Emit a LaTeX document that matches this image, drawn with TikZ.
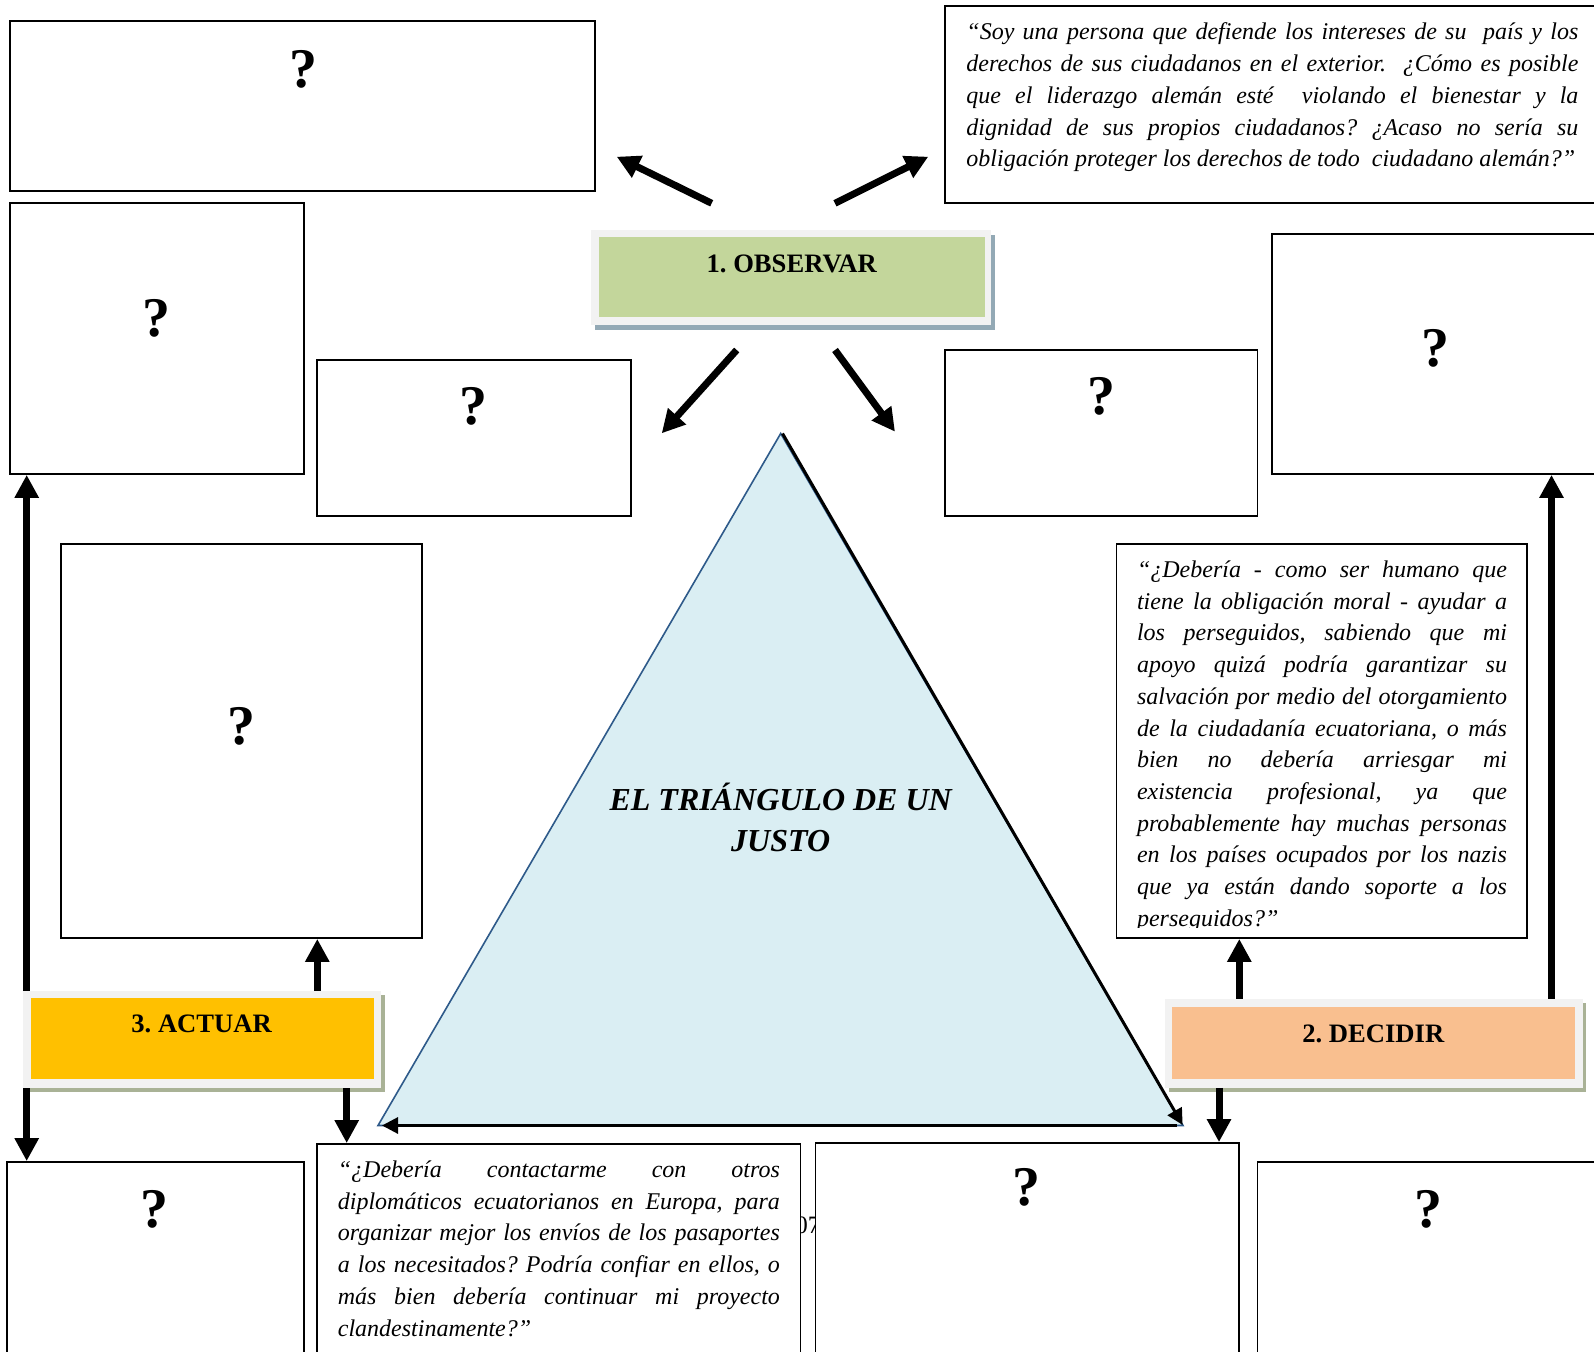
\documentclass[tikz,border=0pt]{standalone}
\usepackage{fontspec}
\setmainfont{Liberation Serif}
\usetikzlibrary{arrows.meta,fit}
\frenchspacing
\definecolor{cObsGreen}{HTML}{C3D69B}
\definecolor{cActYellow}{HTML}{FFC000}
\definecolor{cDecPeach}{HTML}{F9BF8F}
\definecolor{cLblFrame}{HTML}{F2F2F2}
\definecolor{cObsShadow}{HTML}{93A9B5}
\definecolor{cLblShadow}{HTML}{A9B296}
\definecolor{cTriFill}{HTML}{DAEEF3}
\definecolor{cTriEdge}{HTML}{2E5A8A}
\newcommand\jl[1]{\noindent\makebox[\linewidth][s]{#1}\par}
\newcommand\lastl[1]{\noindent\mbox{#1}\par}
\tikzset{
  qbox/.style={draw=black, line width=0.9pt, fill=white, inner sep=0pt},
  qmark/.style={font=\bfseries\fontsize{28}{30}\selectfont, inner sep=0pt},
  quotetext/.style={anchor=base west, inner sep=0pt, font=\itshape\fontsize{12}{15.85}\selectfont\frenchspacing},
  lbltext/.style={font=\bfseries\fontsize{13.3}{16}\selectfont, inner sep=0pt},
  lblframebox/.style={fill=cLblFrame, inner sep=0pt},
  bigarrow/.style={line width=3.5pt, -{Triangle[length=11.5pt,width=11.5pt]}},
  triarrow/.style={line width=1.5pt, -{Triangle[length=8pt,width=8pt]}},
  titletext/.style={font=\bfseries\itshape\fontsize{16}{20.8}\selectfont, align=center, inner sep=0pt}
}
\begin{document}
\begin{tikzpicture}[x=0.5pt,y=-0.5pt]
\path[use as bounding box, clip] (0,0) rectangle (1594,1352);
\fill[white] (0,0) rectangle (1594,1352);

% ---------- triangle ----------
\coordinate (apex) at (780.7,433.5);
\coordinate (bl) at (378,1125.5);
\coordinate (br) at (1183,1125.5);
\filldraw[fill=cTriFill, draw=cTriEdge, line width=0.8pt] (apex) -- (br) -- (bl) -- cycle;
\draw[triarrow] ([xshift=0.9pt]apex) -- ([xshift=-0.2pt,yshift=0.3pt]br);
\draw[triarrow] ([xshift=-3pt]br) -- ([xshift=2pt]bl);
\node[titletext] (title) at (780.7,817.5) {EL TRIÁNGULO DE UN\\JUSTO};

% ---------- hidden text fragment ----------
\node[anchor=base west, inner sep=0pt, font=\fontsize{12.5}{14}\selectfont] (frag) at (795,1233) {07};

% ---------- boxes ----------
\node[qbox, fit={(10,21) (595,191)}] (tl) {};
\node[qmark] (qtl) at (303,69) {?};

\node[qbox, fit={(945,6) (1610,203)}] (tr) {};
\node[quotetext] (ttr) at (966,40) {\parbox[t]{306pt}{%
\jl{“Soy una persona que defiende los intereses de su \ país y los}
\jl{derechos de sus ciudadanos en el exterior. \ ¿Cómo es posible}
\jl{que el liderazgo alemán esté \ violando el bienestar y la}
\jl{dignidad de sus propios ciudadanos? ¿Acaso no sería su}
\lastl{obligación proteger los derechos de todo \ ciudadano alemán?”}}};

\node[qbox, fit={(10,203) (304,474)}] (lb2) {};
\node[qmark] (qlb2) at (156.6,318) {?};

\node[qbox, fit={(317,360) (631,516)}] (ml) {};
\node[qmark] (qml) at (473.7,406.6) {?};

\node[qbox, fit={(945,350) (1257.5,516)}] (mr) {};
\node[qmark] (qmr) at (1101,396.5) {?};

\node[qbox, fit={(1272,234) (1610,474)}] (rb) {};
\node[qmark] (qrb) at (1435.4,348.7) {?};

\node[qbox, fit={(61,544) (422,938)}] (lt) {};
\node[qmark] (qlt) at (241,725.9) {?};

\node[qbox, fit={(1116.5,544) (1527,938)}] (rq) {};
\begin{scope}
\clip (1117,545) rectangle (1526,927.5);
\node[quotetext] (trq) at (1136.6,577.5) {\parbox[t]{185pt}{%
\jl{“¿Debería - como ser humano que}
\jl{tiene la obligación moral - ayudar a}
\jl{los perseguidos, sabiendo que mi}
\jl{apoyo quizá podría garantizar su}
\jl{salvación por medio del otorgamiento}
\jl{de la ciudadanía ecuatoriana, o más}
\jl{bien no debería arriesgar mi}
\jl{existencia profesional, ya que}
\jl{probablemente hay muchas personas}
\jl{en los países ocupados por los nazis}
\jl{que ya están dando soporte a los}
\lastl{perseguidos?”}}};
\end{scope}

\node[qbox, fit={(7,1162) (304,1370)}] (bl1) {};
\node[qmark] (qbl1) at (154.5,1209.8) {?};

\node[qbox, fit={(317,1144) (800.5,1370)}] (bq) {};
\node[quotetext] (tbq) at (337.5,1177.5) {\parbox[t]{221pt}{%
\jl{“¿Debería contactarme con otros}
\jl{diplomáticos ecuatorianos en Europa, para}
\jl{organizar mejor los envíos de los pasaportes}
\jl{a los necesitados? Podría confiar en ellos, o}
\jl{más bien debería continuar mi proyecto}
\lastl{clandestinamente?”}}};

\node[qbox, fit={(815.5,1143) (1239,1370)}] (b3) {};
\node[qmark] (qb3) at (1026.8,1187.4) {?};

\node[qbox, fit={(1257.5,1162) (1610,1370)}] (b4) {};
\node[qmark] (qb4) at (1428.3,1209.8) {?};

% ---------- label boxes ----------
\fill[cObsShadow] (595,235) rectangle (995,330);
\node[lblframebox, fit={(591,230) (991,325)}] (obsout) {};
\node[fill=cObsGreen, inner sep=0pt, fit={(599,237.3) (985,317.3)}] (obs) {};
\node[lbltext] (obst) at (791.7,264) {1. OBSERVAR};

\fill[cLblShadow] (27,995) rectangle (384.5,1092);
\node[lblframebox, fit={(23,991) (381,1088)}] (actout) {};
\node[fill=cActYellow, inner sep=0pt, fit={(30.7,998) (374,1079)}] (act) {};
\node[lbltext] (actt) at (201.6,1024) {3. ACTUAR};

\fill[cLblShadow] (1169,1003) rectangle (1586,1092);
\node[lblframebox, fit={(1165,999) (1582.5,1087.5)}] (decout) {};
\node[fill=cDecPeach, inner sep=0pt, fit={(1172,1006.7) (1575,1079)}] (dec) {};
\node[lbltext] (dect) at (1373.3,1033.5) {2. DECIDIR};

% ---------- arrows from OBSERVAR ----------
\coordinate (o1s) at (711.7,203.3); \coordinate (o1e) at (616.7,156.7);
\coordinate (o2s) at (835,203.3);   \coordinate (o2e) at (928.3,156.7);
\coordinate (o3s) at (736.7,350);   \coordinate (o3e) at (661.7,433.3);
\coordinate (o4s) at (835,350);     \coordinate (o4e) at (895,431.7);
\draw[bigarrow] (o1s) -- (o1e);
\draw[bigarrow] (o2s) -- (o2e);
\draw[bigarrow] (o3s) -- (o3e);
\draw[bigarrow] (o4s) -- (o4e);

% ---------- arrows from ACTUAR ----------
\coordinate (ax1) at (26.7,0);
\coordinate (ax2) at (317.3,0);
\coordinate (ax3) at (346.7,0);
\draw[bigarrow] (ax1 |- actout.north) -- (ax1 |- lb2.south);
\draw[bigarrow] (ax2 |- actout.north) -- (ax2 |- lt.south);
\draw[bigarrow] (ax1 |- actout.south) -- (ax1 |- bl1.north);
\draw[bigarrow] (ax3 |- actout.south) -- (ax3 |- bq.north);

% ---------- arrows from DECIDIR ----------
\coordinate (dx1) at (1239.3,0);
\coordinate (dx2) at (1551.5,0);
\coordinate (dx3) at (1219,0);
\draw[bigarrow] (dx1 |- decout.north) -- (dx1 |- rq.south);
\draw[bigarrow] (dx2 |- decout.north) -- (dx2 |- rb.south);
\draw[bigarrow] (dx3 |- decout.south) -- (dx3 |- b3.north);
\end{tikzpicture}
\end{document}
